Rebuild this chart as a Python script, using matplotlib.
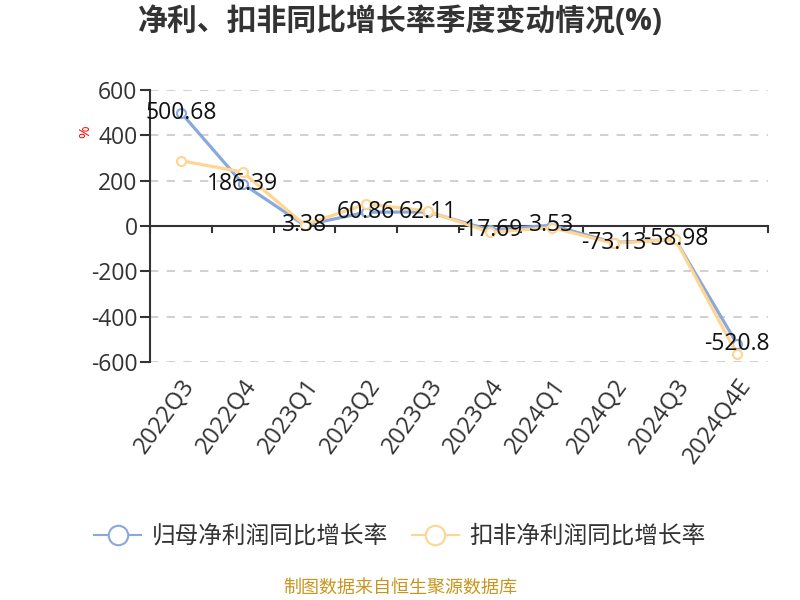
import matplotlib
matplotlib.use("Agg")
import matplotlib.pyplot as plt
from matplotlib.lines import Line2D

plt.rcParams['font.family'] = ['Open Sans', 'Noto Sans CJK SC', 'DejaVu Sans']
plt.rcParams['axes.unicode_minus'] = False

quarters = ['2022Q3', '2022Q4', '2023Q1', '2023Q2', '2023Q3',
            '2023Q4', '2024Q1', '2024Q2', '2024Q3', '2024Q4E']
net_profit_yoy = [500.68, 186.39, 3.38, 60.86, 62.11, -17.69, 3.53, -73.13, -58.98, -520.8]
deducted_yoy = [288, 238, 5, 97, 66, -28, -7, -76, -59, -566]
label_texts = ['500.68', '186.39', '3.38', '60.86', '62.11', '-17.69', '3.53', '-73.13', '-58.98', '-520.8']

blue = '#88a9dc'
orange = '#ffd591'
text_color = '#333333'

fig = plt.figure(figsize=(8, 6), dpi=100)
ax = fig.add_axes([150 / 800, 1 - 362 / 600, 618 / 800, 272 / 600])

x = list(range(len(quarters)))
ax.plot(x, net_profit_yoy, color=blue, lw=2.3, marker='o', ms=6.5,
        mfc='white', mec=blue, mew=1.5, zorder=3, clip_on=False)
ax.plot(x, deducted_yoy, color=orange, lw=2.3, marker='o', ms=6.5,
        mfc='white', mec=orange, mew=1.5, zorder=4, clip_on=False)

for xi, yi, t in zip(x, net_profit_yoy, label_texts):
    ax.text(xi, yi, t, ha='center', va='center', fontsize=16.5,
            color='#111111', zorder=6)

ax.set_xlim(-0.5, len(quarters) - 0.5)
ax.set_ylim(-600, 600)
ax.set_yticks([-600, -400, -200, 0, 200, 400, 600])
ax.tick_params(axis='y', labelsize=16.5, colors=text_color, length=7, width=1.5, pad=2)
for v in [-600, -400, -200, 200, 400, 600]:
    ax.axhline(v, color='#c8c8c8', lw=1.2, ls=(0, (5, 5)), zorder=1)
ax.axhline(0, color=text_color, lw=1.5, zorder=2)

ax.set_xticks(x)
ax.set_xticklabels(quarters, rotation=54, ha='right', rotation_mode='anchor',
                   fontsize=17, color=text_color)
ax.tick_params(axis='x', length=0, pad=9)
# category boundary ticks hanging off the zero line
for b in [i + 0.5 for i in range(-1, len(quarters))]:
    ax.plot([b, b], [0, -28], color=text_color, lw=1.5, zorder=2, clip_on=False)

for side in ['top', 'right', 'bottom']:
    ax.spines[side].set_visible(False)
ax.spines['left'].set_color(text_color)
ax.spines['left'].set_linewidth(1.5)

fig.text(86 / 800, 1 - 132 / 600, '%', color='red', fontsize=11,
         rotation=90, ha='center', va='center')

fig.text(0.5, 1 - 22 / 600, '净利、扣非同比增长率季度变动情况(%)', ha='center',
         va='center', fontsize=21.5, fontweight='bold', color=text_color)

handles = [
    Line2D([], [], color=blue, lw=1.5, marker='o', ms=14, mfc='white', mec=blue, mew=1.5),
    Line2D([], [], color=orange, lw=1.5, marker='o', ms=14, mfc='white', mec=orange, mew=1.5),
]
fig.legend(handles, ['归母净利润同比增长率', '扣非净利润同比增长率'],
           loc='center', bbox_to_anchor=(0.5, 1 - 537 / 600), ncol=2, frameon=False,
           fontsize=17, labelcolor=text_color, handlelength=2.0, columnspacing=1.0,
           handletextpad=0.45)

fig.text(0.5, 1 - 588 / 600, '制图数据来自恒生聚源数据库', ha='center', va='center',
         fontsize=13, color='#c8961e')

fig.savefig('out.png', dpi=100)
